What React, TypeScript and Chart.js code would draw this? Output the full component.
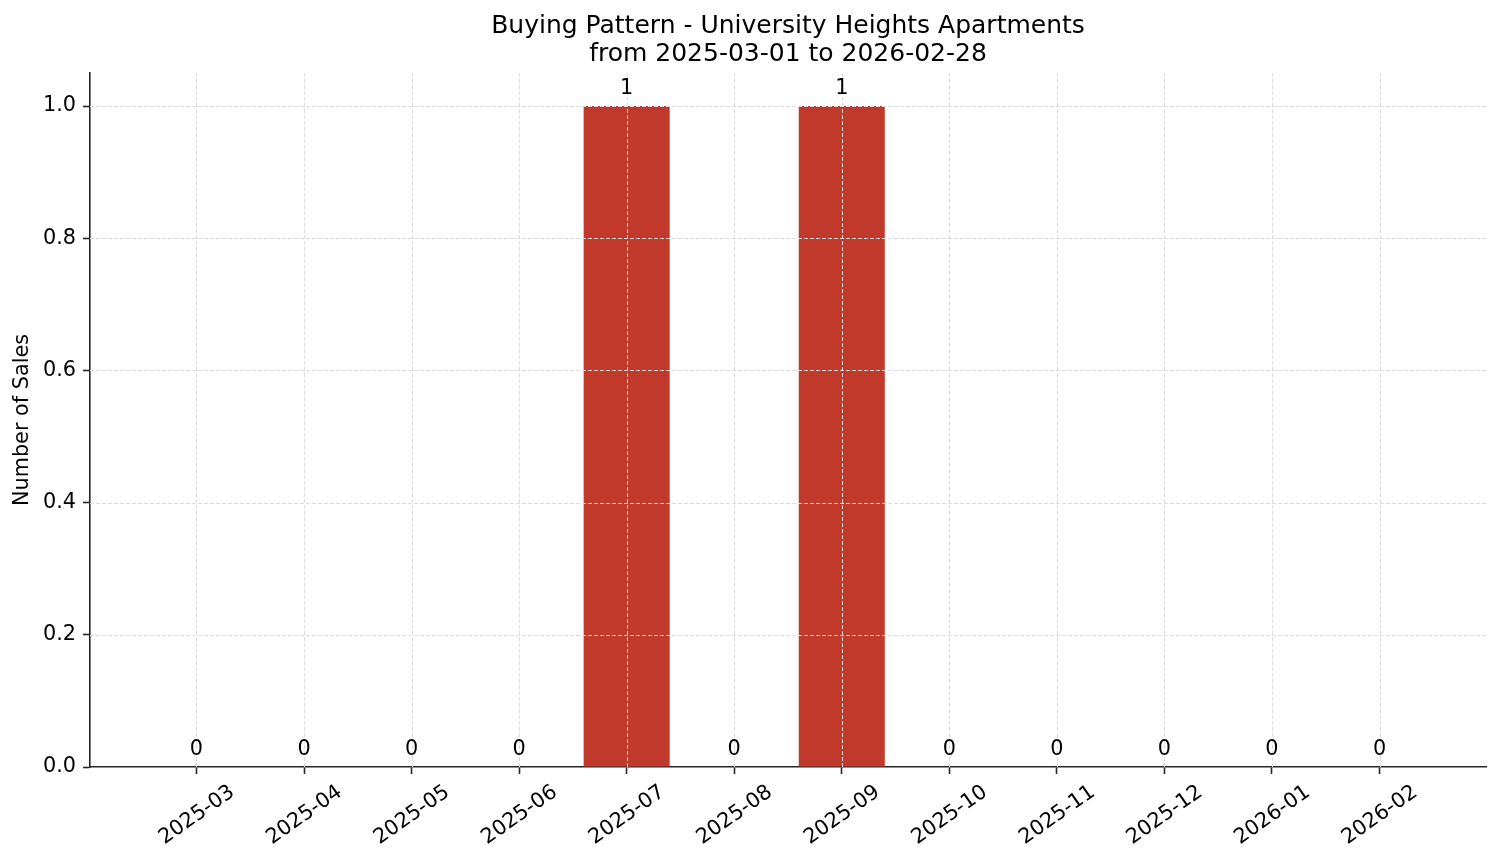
import React, { useEffect, useRef } from "react";
import { Chart, registerables } from "chart.js";

Chart.register(...registerables);

const MONTHS = [
  "2025-03", "2025-04", "2025-05", "2025-06", "2025-07", "2025-08",
  "2025-09", "2025-10", "2025-11", "2025-12", "2026-01", "2026-02",
];
const SALES = [0, 0, 0, 0, 1, 0, 1, 0, 0, 0, 0, 0];
const Y_TICKS = [0, 0.2, 0.4, 0.6, 0.8, 1.0];
const TITLE_LINES = ["Buying Pattern - University Heights Apartments", "from 2025-03-01 to 2026-02-28"];
const Y_TITLE = "Number of Sales";

const FONT = "'DejaVu Sans', sans-serif";
const BAR_COLOR = "#c0392b";
const AXIS_COLOR = "#262626";
const GRID_COLOR = "#dcdcdc";
const TICK_FS = 20.8;
const TITLE_FS = 25;

const W = 1501;
const H = 863;

const overlay = {
  id: "overlay",
  afterDatasetsDraw(chart: any) {
    const { ctx, chartArea, scales } = chart;
    const xs = scales.x;
    const ys = scales.y;
    ctx.save();
    // grid over bars
    ctx.strokeStyle = GRID_COLOR;
    ctx.lineWidth = 1;
    ctx.setLineDash([4, 2]);
    MONTHS.forEach((_, i) => {
      const px = Math.round(xs.getPixelForValue(i)) + 0.5;
      ctx.beginPath();
      ctx.moveTo(px, chartArea.top);
      ctx.lineTo(px, chartArea.bottom);
      ctx.stroke();
    });
    Y_TICKS.forEach((v) => {
      if (v === 0) return;
      const py = Math.round(ys.getPixelForValue(v)) + 0.5;
      ctx.beginPath();
      ctx.moveTo(chartArea.left, py);
      ctx.lineTo(chartArea.right, py);
      ctx.stroke();
    });
    ctx.setLineDash([]);
    // value labels
    ctx.fillStyle = "#000";
    ctx.font = `${TICK_FS}px ${FONT}`;
    ctx.textAlign = "center";
    ctx.textBaseline = "alphabetic";
    SALES.forEach((v, i) => {
      const px = xs.getPixelForValue(i);
      const py = ys.getPixelForValue(v);
      ctx.fillText(String(v), px, py - 12.5);
    });
    // title
    const cx = (chartArea.left + chartArea.right) / 2;
    ctx.font = `${TITLE_FS}px ${FONT}`;
    ctx.textBaseline = "middle";
    ctx.fillText(TITLE_LINES[0], cx, 26);
    ctx.fillText(TITLE_LINES[1], cx, 54);
    // y title
    ctx.font = `${TICK_FS}px ${FONT}`;
    ctx.translate(23, (chartArea.top + chartArea.bottom) / 2);
    ctx.rotate(-Math.PI / 2);
    ctx.textAlign = "center";
    ctx.textBaseline = "middle";
    ctx.fillText(Y_TITLE, 0, 0);
    ctx.restore();
  },
};

export default function App() {
  const ref = useRef<HTMLCanvasElement | null>(null);
  useEffect(() => {
    document.body.style.margin = "0";
    const canvas = ref.current!;
    const chart = new Chart(canvas, {
      type: "bar",
      data: {
        datasets: [
          {
            data: SALES.map((v, i) => ({ x: i, y: v })),
            backgroundColor: BAR_COLOR,
            borderWidth: 0,
            barPercentage: 0.8,
            categoryPercentage: 1.0,
          },
        ],
      },
      options: {
        animation: false,
        responsive: false,
        devicePixelRatio: 1,
        layout: { padding: { top: 73, right: 15, left: 0, bottom: 0 } },
        plugins: { legend: { display: false }, title: { display: false }, tooltip: { enabled: false } },
        scales: {
          x: {
            type: "linear",
            offset: false,
            min: -0.99,
            max: 11.99,
            afterBuildTicks: (s: any) => {
              s.ticks = MONTHS.map((_, i) => ({ value: i }));
            },
            afterFit: (s: any) => {
              s.height = H - 767;
            },
            ticks: {
              autoSkip: false,
              minRotation: 35,
              maxRotation: 35,
              labelOffset: 36,
              padding: 6,
              color: "#000",
              font: { family: FONT, size: TICK_FS },
              callback: (v: any) => MONTHS[Math.round(Number(v))] ?? "",
            },
            grid: {
              offset: false,
              color: "rgba(0,0,0,0)",
              drawOnChartArea: false,
              tickColor: AXIS_COLOR,
              tickLength: 7,
              tickWidth: 1.6,
            },
            border: { display: true, color: AXIS_COLOR, width: 1.6 },
          },
          y: {
            min: 0,
            max: 1.05,
            afterBuildTicks: (s: any) => {
              s.ticks = Y_TICKS.map((v) => ({ value: v }));
            },
            afterFit: (s: any) => {
              s.width = 90;
            },
            ticks: {
              padding: 7,
              color: "#000",
              font: { family: FONT, size: TICK_FS },
              callback: (v: any) => Number(v).toFixed(1),
            },
            grid: {
              color: "rgba(0,0,0,0)",
              drawOnChartArea: false,
              tickColor: AXIS_COLOR,
              tickLength: 7,
              tickWidth: 1.6,
            },
            border: { display: true, color: AXIS_COLOR, width: 1.6 },
          },
        },
      },
      plugins: [overlay],
    });
    return () => chart.destroy();
  }, []);
  return (
    <div style={{ position: "fixed", left: 0, top: 0, width: W, height: H, background: "#fff" }}>
      <canvas ref={ref} width={W} height={H} style={{ width: W, height: H, display: "block" }} />
    </div>
  );
}
